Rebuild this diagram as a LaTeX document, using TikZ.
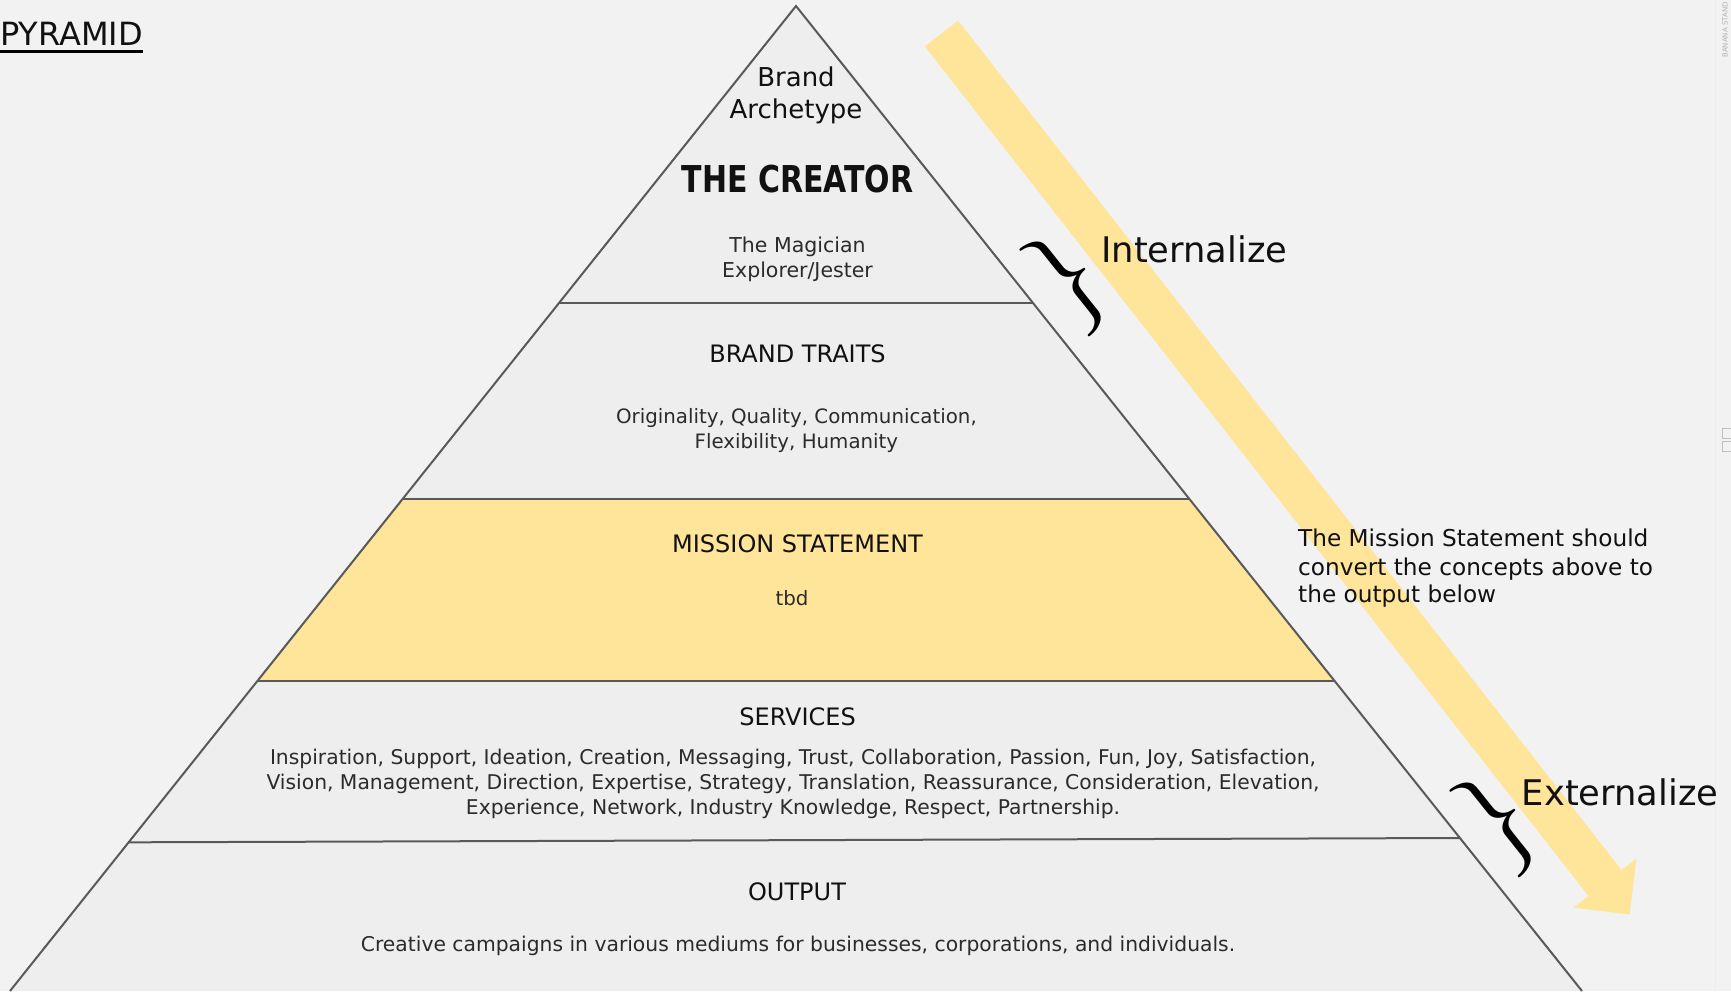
\documentclass[tikz,border=0pt]{standalone}
\usepackage{fontspec}
\setmainfont{DejaVu Sans}
\newfontfamily\bracefont{Latin Modern Roman}
\usetikzlibrary{calc}
\definecolor{bgc}{HTML}{F2F2F2}
\definecolor{pyrc}{HTML}{EEEEEE}
\definecolor{yel}{HTML}{FFE599}
\definecolor{edgec}{HTML}{595959}
\definecolor{txt}{HTML}{111111}
\definecolor{bodyc}{HTML}{2B2B2B}
\begin{document}
\begin{tikzpicture}[x=1pt,y=-1pt,
  lbl/.style={anchor=base,inner sep=0pt,text=txt},
  body/.style={lbl,text=bodyc,font=\fontsize{19.8}{24}\selectfont},
  widebody/.style={lbl,text=bodyc,font=\fontsize{20.3}{24}\selectfont},
  head/.style={lbl,font=\fontsize{24}{28}\selectfont},
  archstyle/.style={lbl,font=\fontsize{26}{30}\selectfont},
  creatorstyle/.style={lbl,font=\fontsize{37}{40}\selectfont\bfseries},
  notestyle/.style={lbl,anchor=base west,font=\fontsize{23.2}{28}\selectfont},
  bigword/.style={lbl,anchor=base west,font=\fontsize{35.3}{40}\selectfont},
  bracestyle/.style={inner sep=0pt,text=black,font=\bracefont\fontsize{112}{112}\selectfont},
  edge/.style={draw=edgec,line width=2pt},
  faint/.style={text=black!30,inner sep=0pt,font=\fontsize{7}{8}\selectfont}]
\useasboundingbox (0,0) rectangle (1731,991);
\fill[bgc] (0,0) rectangle (1731,991);
\draw[black!7,line width=1pt] (1715,0) -- (1715,991);

% pyramid geometry
\coordinate (apex) at (796,6);
\coordinate (bl) at (10,991);
\coordinate (br) at (1582,991);
\coordinate (d1l) at ($(apex)!0.30152!(bl)$);
\coordinate (d1r) at ($(apex)!0.30152!(br)$);
\coordinate (d2l) at ($(apex)!0.50051!(bl)$);
\coordinate (d2r) at ($(apex)!0.50051!(br)$);
\coordinate (d3l) at ($(apex)!0.68528!(bl)$);
\coordinate (d3r) at ($(apex)!0.68528!(br)$);
\coordinate (d4l) at ($(apex)!0.84904!(bl)$);
\coordinate (d4r) at ($(apex)!0.84467!(br)$);

\fill[pyrc] (apex) -- (bl) -- (br) -- cycle;
\fill[yel] (d2l) -- (d2r) -- (d3r) -- (d3l) -- cycle;
\draw[edge] (bl) -- (apex) -- (br);
\draw[edge] (d1l) -- (d1r);
\draw[edge] (d2l) -- (d2r);
\draw[edge] (d3l) -- (d3r);
\draw[edge] (d4l) -- (d4r);

% yellow arrow
\fill[yel] (924.9,46.4) -- (958.1,20.6) -- (1621.6,870.1) -- (1636.5,858.4)
  -- (1629.6,914.5) -- (1573.5,907.6) -- (1588.4,895.9) -- cycle;

% title
\node[lbl,anchor=base west,font=\fontsize{32}{34}\selectfont] (title) at (0,45) {PYRAMID};
\draw[black,line width=2.7pt] (title.base west) ++(0,6.3) -- ++(143,0);

% apex texts
\node[archstyle] (brand) at (796,86) {Brand};
\node[archstyle] (archetype) at (796,118) {Archetype};
\node[creatorstyle] (creator) at (797.5,192.3) {\scalebox{0.81}[1]{THE CREATOR}};
\node[body,font=\fontsize{20.5}{24}\selectfont] (magician) at (797.5,252.7) {The Magician};
\node[body,font=\fontsize{20.5}{24}\selectfont] (explorer) at (797.5,277.7) {Explorer/Jester};

% brand traits
\node[head] (traits) at (797.5,362.3) {BRAND TRAITS};
\node[body] (traits1) at (796.4,423.3) {Originality, Quality, Communication,};
\node[body] (traits2) at (796.4,448.3) {Flexibility, Humanity};

% mission
\node[head] (mission) at (797.5,552.3) {MISSION STATEMENT};
\node[body] (tbd) at (792,605) {tbd};

% services
\node[head] (services) at (797.6,725) {SERVICES};
\node[widebody] (serv1) at (793,764) {Inspiration, Support, Ideation, Creation, Messaging, Trust, Collaboration, Passion, Fun, Joy, Satisfaction,};
\node[widebody] (serv2) at (793,789.3) {Vision, Management, Direction, Expertise, Strategy, Translation, Reassurance, Consideration, Elevation,};
\node[widebody] (serv3) at (793,814) {Experience, Network, Industry Knowledge, Respect, Partnership.};

% output
\node[head] (output) at (797,900) {OUTPUT};
\node[widebody] (creative) at (798,951) {Creative campaigns in various mediums for businesses, corporations, and individuals.};

% side note
\node[notestyle] (note1) at (1298,546.7) {The Mission Statement should};
\node[notestyle] (note2) at (1298,575) {convert the concepts above to};
\node[notestyle] (note3) at (1298,602.7) {the output below};

% braces and words
\node[bracestyle,rotate=38.6] (brace1) at (1070,281.5) {\}};
\node[bracestyle,rotate=38.6] (brace2) at (1500,822.5) {\}};
\node[bigword] (internalize) at (1101,262.7) {Internalize};
\node[bigword] (externalize) at (1521.7,805) {Externalize};

% faint margin marks
\node[faint,rotate=90,anchor=east] (stamp) at (1725,2) {BANANA STAND};
\draw[black!25,line width=0.8pt] (1722,428) rectangle (1731,438);
\draw[black!25,line width=0.8pt] (1722,441) rectangle (1731,451);
\end{tikzpicture}
\end{document}
